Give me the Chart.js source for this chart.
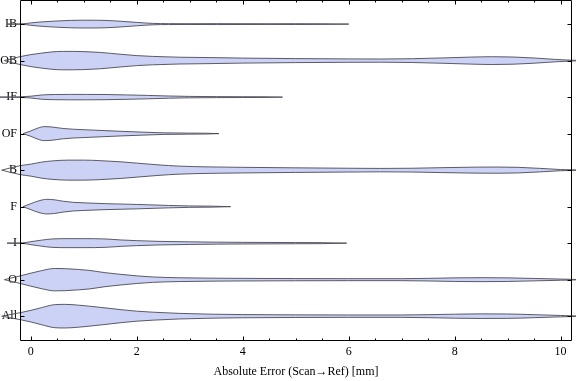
<!DOCTYPE html>
<html>
<head>
<meta charset="utf-8">
<script src="https://cdn.jsdelivr.net/npm/chart.js@4"></script>
<style>
html,body{margin:0;padding:0;background:#fff;}
#wrap{width:576px;height:381px;position:relative;}
</style>
</head>
<body>
<div id="wrap"><canvas id="c"></canvas></div>
<script>
// Categories, top to bottom
const categories = ['IB','OB','IF','OF','B','F','I','O','All'];
const xTickLabels = [0,2,4,6,8,10];

// Estimated density (half-width) profiles for each group
const ibX = [-0.45,-0.15,0,0.15,0.45,0.75,1.0,1.4,1.7,2.0,2.3,2.6,3,3.5,4,4.5,5,5.5,6.0];
const ibD = [0,0.3,1.2,2.0,3.0,3.7,3.9,3.7,2.8,1.7,0.7,0.45,0.4,0.45,0.4,0.35,0.4,0.3,0];

const obX = [-0.5,-0.2,0,0.2,0.4,0.6,0.8,1.0,1.3,1.7,2.0,2.3,2.8,3.4,4,5,6,6.6,7.2,7.8,8.3,8.7,9.1,9.5,9.9,10.2,10.7];
const obD = [0,4,6,7.5,8.7,9.2,9.2,9.0,8.2,6.3,5.0,4.2,3.4,3.0,2.5,2.0,1.7,1.6,1.9,2.7,3.5,3.9,3.6,2.6,1.2,0.4,0];

const ifX = [-0.6,-0.2,0,0.2,0.45,0.75,1.05,1.4,1.8,2.2,2.6,3.0,3.5,4.0,4.4,4.75];
const ifD = [0,0.3,0.9,2.1,2.6,2.7,2.7,2.6,2.2,1.7,1.1,0.7,0.5,0.4,0.35,0];

const ofX = [-0.15,0,0.13,0.25,0.4,0.6,0.8,1.1,1.4,1.7,2.1,2.5,3.0,3.3,3.55];
const ofD = [0,2.7,5.5,7,6.6,5.2,4.4,3.7,3.0,2.3,1.5,0.8,0.5,0.4,0];

const bX = [-0.55,-0.2,0,0.2,0.4,0.7,1.0,1.3,1.7,2.0,2.4,2.8,3.4,4,5,6,6.6,7.2,7.8,8.4,8.8,9.2,9.6,10.0,10.3,10.7];
const bD = [0,4.5,6,8,9.2,10,10,9.5,8.3,7,5.3,4,3.2,2.8,2.3,1.9,1.7,1.9,2.5,3,3.1,2.8,1.8,0.6,0.2,0];

const fX = [-0.15,0,0.13,0.3,0.45,0.6,0.8,1.0,1.4,2.0,2.6,3.0,3.4,3.77];
const fD = [0,3,5.5,7.3,6.8,5.5,4.3,3.8,3.0,2.2,1.2,0.7,0.5,0];

const iX = [-0.45,-0.15,0,0.2,0.4,0.7,1.0,1.4,1.7,2.0,2.4,3.0,3.5,4,5,5.5,5.96];
const iD = [0,0.3,1.5,3,4.2,4.5,4.5,4.2,3.2,2.5,1.8,1.3,1,0.8,0.6,0.5,0];

const oX = [-0.5,-0.2,0,0.2,0.45,0.65,0.9,1.1,1.4,1.7,2.0,2.3,2.8,3.4,4,5,6,7,7.5,8,8.5,9,9.5,10,10.3,10.7];
const oD = [0,3.8,6.5,9,11.2,11,10.2,9.3,7,5.3,3.8,2.7,1.9,1.5,1.3,1.1,1,1,1.3,1.8,2,1.8,1.2,0.6,0.2,0];

const allX = [-0.55,-0.2,0,0.2,0.45,0.65,0.9,1.1,1.4,1.7,2.0,2.3,2.8,3.4,4,5,6,7,7.5,8,8.5,9,9.5,10,10.3,10.7];
const allD = [0,3.5,5.8,8.5,11.5,11.8,11,10,8.3,6.5,5,4,2.8,2,1.6,1.3,1.2,1.2,1.5,2,2.3,2.2,1.5,0.7,0.2,0];

const profiles = [[ibX,ibD],[obX,obD],[ifX,ifD],[ofX,ofD],[bX,bD],[fX,fD],[iX,iD],[oX,oD],[allX,allD]];

const DENSITY_SCALE = 1/36.5;
const FILL = 'rgb(204,209,246)';
const EDGE = 'rgba(75,75,85,0.9)';

const datasets = [];
profiles.forEach((p, k) => {
  const center = categories.length - k;
  const [xs, ds] = p;
  const upper = xs.map((x, j) => ({x, y: center + ds[j]*DENSITY_SCALE}));
  const lower = xs.map((x, j) => ({x, y: center - ds[j]*DENSITY_SCALE}));
  const common = {
    borderColor: EDGE, borderWidth: 1, pointRadius: 0,
    cubicInterpolationMode: 'monotone', clip: false, backgroundColor: FILL
  };
  datasets.push(Object.assign({data: upper, fill: false}, common));
  datasets.push(Object.assign({data: lower, fill: '-1'}, common));
});

const framePlugin = {
  id: 'frame',
  afterDraw(chart) {
    const ctx = chart.ctx;
    const xs = chart.scales.x, ys = chart.scales.y;
    const {left, right, top, bottom} = chart.chartArea;
    ctx.save();
    ctx.strokeStyle = '#000';
    ctx.lineWidth = 1;
    ctx.beginPath();
    ctx.moveTo(left+0.5, top+0.5); ctx.lineTo(right-0.5, top+0.5);
    ctx.lineTo(right-0.5, bottom-0.5); ctx.lineTo(left+0.5, bottom-0.5);
    ctx.closePath();
    ctx.stroke();
    ctx.beginPath();
    for (let v = 0; v <= 10.001; v += 0.5) {
      const major = Math.abs(v/2 - Math.round(v/2)) < 1e-6;
      const len = major ? 4 : 2;
      const px = Math.round(xs.getPixelForValue(v)) + 0.5;
      ctx.moveTo(px, bottom-0.5); ctx.lineTo(px, bottom-0.5-len);
      ctx.moveTo(px, top+0.5); ctx.lineTo(px, top+0.5+len);
    }
    for (let k = 1; k <= categories.length; k++) {
      const py = Math.round(ys.getPixelForValue(k)) + 0.5;
      ctx.moveTo(left+0.5, py); ctx.lineTo(left+0.5+4, py);
      ctx.moveTo(right-0.5, py); ctx.lineTo(right-0.5-4, py);
    }
    ctx.stroke();
    ctx.restore();
  }
};

const font = {family: '"Liberation Serif", "Times New Roman", serif', size: 12};

new Chart(document.getElementById('c'), {
  type: 'line',
  data: {datasets},
  options: {
    responsive: true, maintainAspectRatio: false, animation: false,
    layout: {padding: {left: 0, right: 4, top: 0, bottom: 0}},
    plugins: {legend: {display: false}, tooltip: {enabled: false}},
    elements: {line: {tension: 0}},
    scales: {
      x: {
        type: 'linear', min: -0.205, max: 10.215,
        grid: {display: false, drawTicks: false},
        border: {display: false},
        afterBuildTicks: s => { s.ticks = xTickLabels.map(v => ({value: v})); },
        afterFit: s => { s.height = 40; s.paddingLeft = 0; s.paddingRight = 0; },
        ticks: {color: '#000', font, padding: 4, maxRotation: 0, autoSkip: false},
        title: {display: true, text: 'Absolute Error (Scan→Ref) [mm]', color: '#000', font, padding: {top: 0, bottom: 2}}
      },
      y: {
        type: 'linear', min: 0.32, max: 9.66,
        grid: {display: false, drawTicks: false},
        border: {display: false},
        afterBuildTicks: s => { s.ticks = categories.map((c, k) => ({value: categories.length - k})); },
        afterFit: s => { s.width = 20; s.paddingTop = 0; s.paddingBottom = 0; },
        ticks: {color: '#000', font, padding: 3, autoSkip: false,
          callback: v => categories[categories.length - v]}
      }
    }
  },
  plugins: [framePlugin]
});
</script>
</body>
</html>
